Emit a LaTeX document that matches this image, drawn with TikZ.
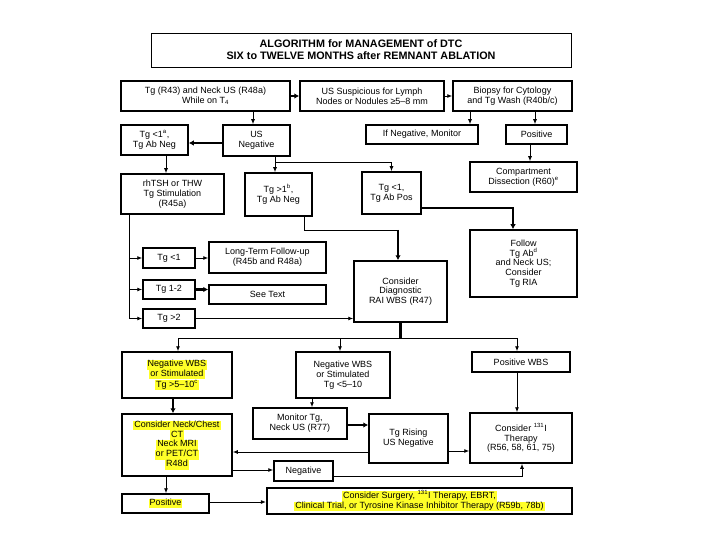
\documentclass[tikz,border=0pt]{standalone}
\usepackage{fontspec}
\setmainfont{Liberation Sans}
\usetikzlibrary{arrows.meta}
\definecolor{hly}{RGB}{255,255,40}
\newcommand{\hl}[1]{{\setlength{\fboxsep}{0pt}\colorbox{hly}{\kern1pt\strut#1\kern1pt}}}
\newcommand{\bx}[7][]{\node[box,#1,minimum width={(#4-#3)*1pt},minimum height={(#6-#5)*1pt}] (#2) at ({(#3+#4)/2},{(#5+#6)/2}) {#7};}
\tikzset{
  box/.style={draw, line width=1.5pt, inner sep=1pt, align=center, anchor=center,
    font=\fontsize{9}{9.8}\selectfont},
  ln/.style={line width=0.9pt},
  arr/.style={line width=0.9pt, -{Latex[length=5pt,width=4pt]}},
  tln/.style={line width=2.4pt},
  tarr/.style={line width=2.4pt, -{Latex[length=5pt,width=5.5pt]}}
}
\begin{document}
\begin{tikzpicture}[x=1pt,y=-1pt]
\useasboundingbox (0,0) rectangle (720,540);
% title
\bx[line width=0.8pt,font=\fontsize{10.8}{12}\selectfont\bfseries]{title}{151}{571}{33}{67}{ALGORITHM for MANAGEMENT of DTC\\SIX to TWELVE MONTHS after REMNANT ABLATION}
% row 1
\bx{b1}{121}{290}{81}{111}{Tg (R43) and Neck US (R48a)\\While on T\textsubscript{4}}
\bx{b2}{300}{444}{81}{111}{US Suspicious for Lymph\\Nodes or Nodules ≥5–8 mm}
\bx{b3}{453}{572}{81}{111}{Biopsy for Cytology\\and Tg Wash (R40b/c)}
% row 2
\bx{tga}{121}{188}{125}{155}{Tg <1\textsuperscript{a},\\Tg Ab Neg}
\bx{usneg}{223}{290}{125}{156}{US\\Negative}
\bx{ifneg}{366}{478}{125}{144}{If Negative, Monitor}
\bx{pos1}{506}{567}{125}{144}{Positive}
\bx{comp}{470}{577}{162}{192}{Compartment\\Dissection (R60)\textsuperscript{e}}
% row 3
\bx{rhtsh}{121}{224}{174}{214}{rhTSH or THW\\Tg Stimulation\\(R45a)}
\bx{tgb}{245}{312}{173}{216}{Tg >1\textsuperscript{b},\\Tg Ab Neg}
\bx{tgpos}{362}{421}{172}{214}{Tg <1,\\Tg Ab Pos}
\bx{follow}{470}{577}{230}{297}{Follow\\Tg Ab\textsuperscript{d}\\and Neck US;\\Consider\\Tg RIA}
\bx{consdiag}{354}{447}{261}{322}{Consider\\Diagnostic\\RAI WBS (R47)}
% left tree
\bx{tg1}{143}{195}{248}{268}{Tg <1}
\bx{tg12}{143}{195}{280}{299}{Tg 1-2}
\bx{tg2}{143}{195}{309}{328}{Tg >2}
\bx{longterm}{209}{326}{242}{273}{Long-Term Follow-up\\(R45b and R48a)}
\bx{seetext}{209}{326}{285}{304}{See Text}
% lower part
\bx{negwbs}{122}{232}{352}{398}{\hl{Negative WBS}\\\hl{or Stimulated}\\\hl{Tg >5–10\textsuperscript{c}}}
\bx{negwbs2}{296}{390}{352}{398}{Negative WBS\\or Stimulated\\Tg <5–10}
\bx{poswbs}{472}{570}{352}{372}{Positive WBS}
\bx{consneck}{122}{232}{414}{476}{\hl{Consider Neck/Chest}\\\hl{CT}\\\hl{Neck MRI}\\\hl{or PET/CT}\\\hl{R48d}}
\bx{monitor}{253}{347}{408}{439}{Monitor Tg,\\Neck US (R77)}
\bx{tgrising}{369}{448}{414}{463}{Tg Rising\\US Negative}
\bx{cons131}{470}{572}{413}{463}{Consider \textsuperscript{131}I\\Therapy\\(R56, 58, 61, 75)}
\bx{negbox}{274}{333}{461}{481}{Negative}
\bx{pos2}{122}{209}{494}{513}{\hl{Positive}}
\bx[line width=2.2pt]{surgery}{267}{572}{488}{514}{\hl{Consider Surgery, \textsuperscript{131}I Therapy, EBRT,}\\\hl{Clinical Trial, or Tyrosine Kinase Inhibitor Therapy (R59b, 78b)}}
% coordinates
\coordinate (j1) at (275,162);
\coordinate (j2) at (398,230);
\coordinate (j3) at (400.5,338);
% connectors top
\draw[tarr] (b1.east) -- (b2.west);
\draw[arr] (b2.east) -- (b3.west);
\draw[arr] (253,0 |- b1.south) -- (253,0 |- usneg.north);
\draw[tarr] (usneg.west |- 0,143) -- (tga.east |- 0,143);
\draw[arr] (470,0 |- b3.south) -- (470,0 |- ifneg.north);
\draw[arr] (535,0 |- b3.south) -- (535,0 |- pos1.north);
\draw[arr] (530,0 |- pos1.south) -- (530,0 |- comp.north);
\draw[arr] (275,0 |- usneg.south) -- (275,0 |- tgb.north);
\draw[arr] (j1) -| (tgpos.north);
\draw[arr] (166,0 |- tga.south) -- (166,0 |- rhtsh.north);
\draw[tarr] (tgpos.east |- 0,208) -| (513,0 |- follow.north);
\draw[ln] (304,0 |- tgb.south) |- (j2);
\draw[tarr] (j2) -- (398,0 |- consdiag.north);
% left tree
\draw[ln] (129,0 |- rhtsh.south) -- (129,0 |- tg2.west);
\draw[arr] (129,0 |- tg1.west) -- (tg1.west);
\draw[arr] (129,0 |- tg12.west) -- (tg12.west);
\draw[arr] (129,0 |- tg2.west) -- (tg2.west);
\draw[arr] (tg1.east) -- (tg1.east -| longterm.west);
\draw[tarr] (tg12.east) -- (tg12.east -| seetext.west);
\draw[arr] (tg2.east) -- (tg2.east -| consdiag.west);
% lower connectors
\draw[tln] (consdiag.south) -- (j3);
\draw[ln] (178,338) -- (517,338);
\draw[arr] (178,338) -- (178,0 |- negwbs.north);
\draw[arr] (340,338) -- (340,0 |- negwbs2.north);
\draw[arr] (517,338) -- (517,0 |- poswbs.north);
\draw[tarr] (173,0 |- negwbs.south) -- (173,0 |- consneck.north);
\draw[arr] (312,0 |- negwbs2.south) -- (312,0 |- monitor.north);
\draw[tarr] (monitor.east |- 0,425) -- (tgrising.west |- 0,425);
\draw[arr] (tgrising.west |- 0,452) -- (consneck.east |- 0,452);
\draw[arr] (tgrising.east |- 0,451) -- (cons131.west |- 0,451);
\draw[arr] (517,0 |- poswbs.south) -- (517,0 |- cons131.north);
\draw[arr] (consneck.east |- 0,470) -- (negbox.west |- 0,470);
\draw[arr] (negbox.east |- 0,476) -| (522,0 |- cons131.south);
\draw[arr] (166,0 |- consneck.south) -- (166,0 |- pos2.north);
\draw[arr] (pos2.east |- 0,502) -- (surgery.west |- 0,502);
\end{tikzpicture}
\end{document}
